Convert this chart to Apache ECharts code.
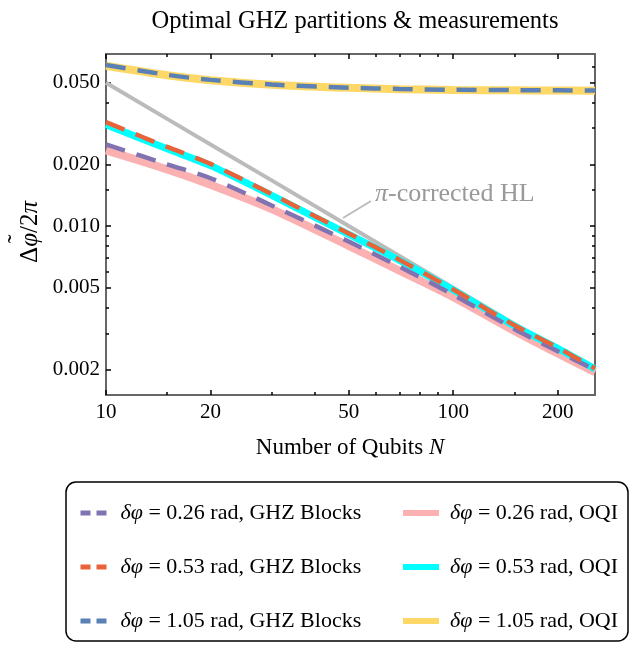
<!DOCTYPE html>
<html>
<head>
<meta charset="utf-8">
<script src="https://cdn.jsdelivr.net/npm/echarts@6/dist/echarts.min.js"></script>
<style>html,body{margin:0;padding:0;background:#fff;}#c{width:633px;height:645px;}</style>
</head>
<body>
<div id="c"></div>
<script>
const N = [10, 15, 20, 30, 50, 70, 100, 150, 200, 256];
const hl      = [0.0500, 0.0333, 0.0250, 0.0167, 0.0100, 0.00714, 0.00500, 0.00333, 0.00250, 0.00195];
const ghz026  = [0.0250, 0.0200, 0.0171, 0.0126, 0.0084, 0.00634, 0.00462, 0.00315, 0.00245, 0.00199];
const ghz053  = [0.0321, 0.0243, 0.0201, 0.0143, 0.0092, 0.00684, 0.00490, 0.00328, 0.00255, 0.00202];
const ghz105  = [0.0610, 0.0546, 0.0516, 0.0490, 0.0473, 0.0466, 0.0462, 0.0460, 0.0459, 0.0458];
const oqi026  = [0.0234, 0.0189, 0.0159, 0.0121, 0.0080, 0.00606, 0.00450, 0.00308, 0.00239, 0.00194];
const oqi053  = [0.0312, 0.0238, 0.0197, 0.0141, 0.0091, 0.00680, 0.00488, 0.00326, 0.00253, 0.00201];
const oqi105  = [0.0605, 0.0544, 0.0514, 0.0489, 0.0472, 0.0465, 0.0461, 0.0459, 0.0458, 0.0457];

const xMajor = [10, 20, 50, 100, 200];
const xMinor = [15, 30, 40, 60, 70, 80, 90, 150];
const yMajor = [0.002, 0.005, 0.01, 0.02, 0.05];
const yMinor = [0.003, 0.004, 0.006, 0.007, 0.008, 0.009, 0.015, 0.03, 0.04, 0.06];

const names = {
  g026: 'δφ = 0.26 rad, GHZ Blocks',
  g053: 'δφ = 0.53 rad, GHZ Blocks',
  g105: 'δφ = 1.05 rad, GHZ Blocks',
  o026: 'δφ = 0.26 rad, OQI',
  o053: 'δφ = 0.53 rad, OQI',
  o105: 'δφ = 1.05 rad, OQI'
};
const FONT = 'Liberation Serif';
const X_MIN = 10, X_MAX = 256, Y_MIN = 0.0015, Y_MAX = 0.069;

function pairs(ys) { return N.map((n, i) => [n, ys[i]]); }

function xAx(pos, major, showLine) {
  return {
    type: 'log', min: X_MIN, max: X_MAX, position: pos, gridIndex: 0,
    axisLine: { show: showLine, onZero: false, lineStyle: { color: '#666', width: 2 } },
    axisTick: { inside: true, length: major ? 5 : 3, customValues: major ? xMajor : xMinor, lineStyle: { color: '#000', width: 1.5 } },
    axisLabel: { show: pos === 'bottom' && major, customValues: xMajor, margin: 7,
      fontFamily: FONT, fontSize: 21, color: '#000', formatter: v => String(Math.round(v)) },
    splitLine: { show: false }, minorTick: { show: false }
  };
}
function yAx(pos, major, showLine) {
  return {
    type: 'log', min: Y_MIN, max: Y_MAX, position: pos, gridIndex: 0,
    axisLine: { show: showLine, onZero: false, lineStyle: { color: '#666', width: 2 } },
    axisTick: { inside: true, length: major ? 5 : 3, customValues: major ? yMajor : yMinor, lineStyle: { color: '#000', width: 1.5 } },
    axisLabel: { show: pos === 'left' && major, customValues: yMajor, margin: 6,
      fontFamily: FONT, fontSize: 21, color: '#000', formatter: v => v.toFixed(3) },
    splitLine: { show: false }, minorTick: { show: false }
  };
}

function solid(name, color, ys, width) {
  return { type: 'line', name: name, data: pairs(ys), smooth: 0.3, symbol: 'none', color: color,
    lineStyle: { color: color, width: width, type: 'solid' }, z: 2, silent: true };
}
function dashed(name, color, ys) {
  return { type: 'line', name: name, data: pairs(ys), smooth: 0.3, symbol: 'none', color: color,
    lineStyle: { color: color, width: 4.5, type: [20, 12] }, z: 3, silent: true };
}

const C = { purple: '#8172b2', orange: '#e8633a', blue: '#5b80b6', pink: '#fbb1b1', cyan: '#00ffff', yellow: '#fdd866', gray: '#bbbbbb' };

const legendText = { fontFamily: FONT, fontSize: 22, color: '#000', lineHeight: 24, padding: [0, 0, 0, 6],
  rich: { i: { fontFamily: FONT, fontStyle: 'italic', fontSize: 22, color: '#000', lineHeight: 24 } } };
const legendFmt = n => n.replace('δφ', '{i|δφ}');
const noSym = { opacity: 0, borderWidth: 0 };

const chart = echarts.init(document.getElementById('c'), null, { renderer: 'canvas' });
chart.setOption({
  animation: false,
  backgroundColor: '#fff',
  title: { text: 'Optimal GHZ partitions & measurements', left: 350, top: 4, textAlign: 'center',
    textStyle: { fontFamily: FONT, fontWeight: 'normal', fontSize: 24.5, color: '#000' } },
  grid: { left: 106, right: 38, top: 54, bottom: 250, containLabel: false },
  xAxis: [xAx('bottom', true, true), xAx('bottom', false, false), xAx('top', true, true), xAx('top', false, false)],
  yAxis: [yAx('left', true, true), yAx('left', false, false), yAx('right', true, true), yAx('right', false, false)],
  legend: [
    { orient: 'vertical', left: 73, top: 496, itemGap: 30, itemWidth: 29, itemHeight: 10,
      textStyle: legendText, formatter: legendFmt, itemStyle: noSym,
      data: [
        { name: names.g026, lineStyle: { type: [10, 6], width: 5 }, itemStyle: noSym },
        { name: names.g053, lineStyle: { type: [10, 6], width: 5 }, itemStyle: noSym },
        { name: names.g105, lineStyle: { type: [10, 6], width: 5 }, itemStyle: noSym }
      ] },
    { orient: 'vertical', left: 395, top: 496, itemGap: 30, itemWidth: 36, itemHeight: 10,
      textStyle: legendText, formatter: legendFmt, itemStyle: noSym,
      data: [
        { name: names.o026, lineStyle: { width: 6 }, itemStyle: noSym },
        { name: names.o053, lineStyle: { width: 6 }, itemStyle: noSym },
        { name: names.o105, lineStyle: { width: 6 }, itemStyle: noSym }
      ] }
  ],
  series: [
    { type: 'line', name: 'π-corrected HL', data: pairs(hl), symbol: 'none', color: C.gray,
      lineStyle: { color: C.gray, width: 4 }, z: 1, silent: true },
    solid(names.o026, C.pink, oqi026, 8),
    solid(names.o053, C.cyan, oqi053, 7),
    solid(names.o105, C.yellow, oqi105, 8),
    dashed(names.g026, C.purple, ghz026),
    dashed(names.g053, C.orange, ghz053),
    dashed(names.g105, C.blue, ghz105)
  ],
  graphic: [
    { type: 'rect', shape: { x: 66, y: 482, width: 562, height: 159, r: 10 },
      style: { fill: 'none', stroke: '#000', lineWidth: 1.5 }, z: 0 },
    { type: 'text', x: 350, y: 448,
      style: { text: 'Number of Qubits {i|N}', textAlign: 'center', textVerticalAlign: 'middle',
        font: '23px "Liberation Serif"', fill: '#000',
        rich: { i: { fontFamily: FONT, fontStyle: 'italic', fontSize: 23, fill: '#000' } } } },
    { type: 'group', x: 30, y: 232, rotation: Math.PI / 2,
      children: [
        { type: 'text', x: 0, y: 0,
          style: { text: 'Δ{i|φ}/2{i|π}', textAlign: 'center', textVerticalAlign: 'middle',
            font: '25px "Liberation Serif"', fill: '#000',
            rich: { i: { fontFamily: FONT, fontStyle: 'italic', fontSize: 25, fill: '#000' } } } },
        { type: 'text', x: -7, y: -12,
          style: { text: '˜', textAlign: 'center', textVerticalAlign: 'middle',
            font: '26px "Liberation Serif"', fill: '#000' } }
      ] },
    { type: 'line', shape: { x1: 343, y1: 218, x2: 371, y2: 201 },
      style: { stroke: '#bbbbbb', lineWidth: 2 } },
    { type: 'text', x: 375, y: 194,
      style: { text: '{i|π}-corrected HL', textAlign: 'left', textVerticalAlign: 'middle',
        font: '26px "Liberation Serif"', fill: '#999999',
        rich: { i: { fontFamily: FONT, fontStyle: 'italic', fontSize: 26, fill: '#999999' } } } }
  ]
});
</script>
</body>
</html>
